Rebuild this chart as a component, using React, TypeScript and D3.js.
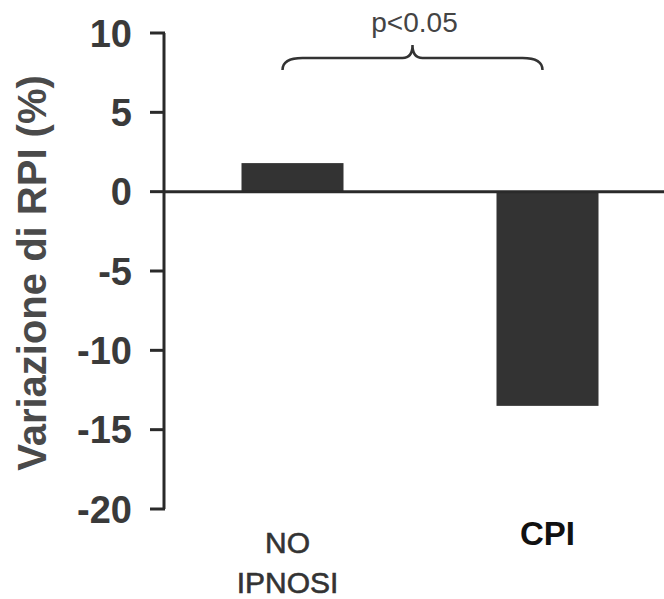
import React from 'react';
import * as d3 from 'd3';

const categories = ['NO IPNOSI', 'CPI'];
const values = [1.8, -13.5];
const yTicks = [10, 5, 0, -5, -10, -15, -20];
const yLabel = 'Variazione di RPI (%)';
const sigLabel = 'p<0.05';

const W = 664;
const H = 599;

export default function App() {
  const y = d3.scaleLinear().domain([-20, 10]).range([509, 33]);
  const x = d3.scaleBand().domain(categories).range([165, 675]).paddingInner(0.6).paddingOuter(0.3);

  const barColor = '#333333';
  const font = 'Liberation Sans, Arial, sans-serif';

  // curly brace over the two bars
  const bx0 = x(categories[0])! + x.bandwidth() / 2 - 10;
  const bx1 = x(categories[1])! + x.bandwidth() / 2 - 5;
  const bm = (bx0 + bx1) / 2;
  const bTop = 45, bLine = 58, bEnd = 70;
  const brace = d3.path();
  brace.moveTo(bx0, bEnd);
  brace.quadraticCurveTo(bx0, bLine, bx0 + 20, bLine);
  brace.lineTo(bm - 10, bLine);
  brace.quadraticCurveTo(bm, bLine, bm, bTop);
  brace.quadraticCurveTo(bm, bLine, bm + 10, bLine);
  brace.lineTo(bx1 - 20, bLine);
  brace.quadraticCurveTo(bx1, bLine, bx1, bEnd);

  const c0 = x(categories[0])! + x.bandwidth() / 2 - 5;
  const c1 = x(categories[1])! + x.bandwidth() / 2;

  return (
    <svg width={W} height={H} style={{ position: 'absolute', left: 0, top: 0, background: '#fff' }}>
      {/* bars */}
      {categories.map((c, i) => (
        <rect
          key={c}
          x={x(c)}
          width={x.bandwidth()}
          y={y(Math.max(0, values[i]))}
          height={Math.abs(y(values[i]) - y(0))}
          fill={barColor}
        />
      ))}

      {/* zero line */}
      <line x1={165} x2={W} y1={y(0)} y2={y(0)} stroke="#2a2a2a" strokeWidth={3} />

      {/* y axis */}
      <line x1={164} x2={164} y1={y(10)} y2={y(-20)} stroke="#2a2a2a" strokeWidth={3} />
      {yTicks.map(t => (
        <g key={t}>
          <line x1={150} x2={165} y1={y(t)} y2={y(t)} stroke="#2a2a2a" strokeWidth={3} />
          <text
            x={132}
            y={y(t)}
            dy="0.36em"
            textAnchor="end"
            fontFamily={font}
            fontSize={38}
            fontWeight="bold"
            fill="#3a3a3a"
          >
            {t}
          </text>
        </g>
      ))}

      <text
        transform={`translate(46, 273) rotate(-90)`}
        textAnchor="middle"
        fontFamily={font}
        fontSize={40}
        fontWeight="bold"
        fill="#4a4a4a"
      >
        {yLabel}
      </text>

      {/* category labels */}
      <text fontFamily={font} fontSize={30} fill="#333" stroke="#333" strokeWidth={0.6} textAnchor="middle">
        <tspan x={c0} y={553}>NO</tspan>
        <tspan x={c0} y={593}>IPNOSI</tspan>
      </text>
      <text x={c1} y={545} fontFamily={font} fontSize={33} fontWeight="bold" fill="#111" textAnchor="middle">
        {categories[1]}
      </text>

      {/* significance */}
      <path d={brace.toString()} fill="none" stroke="#333" strokeWidth={2.5} />
      <text x={bm + 2} y={32} fontFamily={font} fontSize={28} fill="#444" textAnchor="middle">
        {sigLabel}
      </text>
    </svg>
  );
}
